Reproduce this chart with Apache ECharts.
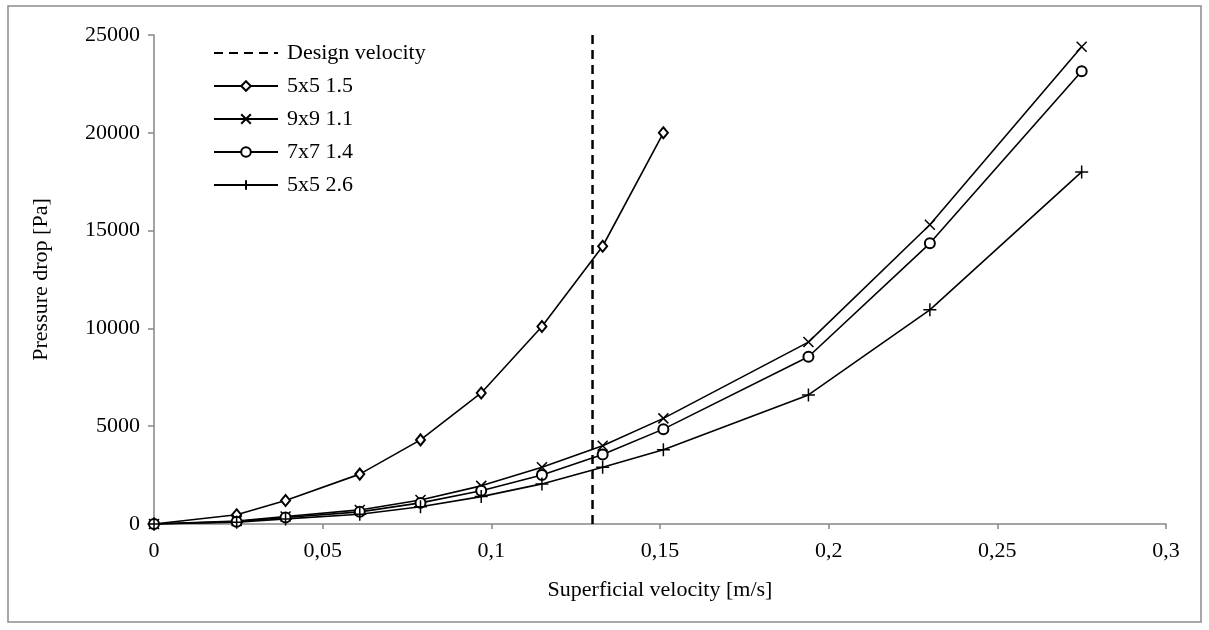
<!DOCTYPE html>
<html>
<head>
<meta charset="utf-8">
<script src="https://cdn.jsdelivr.net/npm/echarts@6/dist/echarts.min.js"></script>
<style>
  html, body { margin: 0; padding: 0; background: #fff; }
  #chart { width: 1209px; height: 630px; }
</style>
</head>
<body>
<div id="chart"></div>
<script>
// ---- data ----
const velocity = [0, 0.0245, 0.039, 0.061, 0.079, 0.097, 0.115, 0.133, 0.151, 0.194, 0.230, 0.275];
const s5x5_15 = [0, 470, 1200, 2550, 4300, 6700, 10100, 14200, 20000];
const s9x9_11 = [0, 150, 380, 720, 1230, 1950, 2900, 4000, 5400, 9300, 15300, 24400];
const s7x7_14 = [0, 120, 330, 620, 1080, 1700, 2500, 3550, 4850, 8550, 14350, 23150];
const s5x5_26 = [0, 90, 260, 500, 880, 1400, 2050, 2900, 3800, 6600, 10950, 18000];
const designVelocity = 0.13;
const yRange = [0, 25000];
const xTicks = [0, 0.05, 0.1, 0.15, 0.2, 0.25, 0.3];
const seriesNames = ['Design velocity', '5x5 1.5', '9x9 1.1', '7x7 1.4', '5x5 2.6'];

function pairs(xs, ys) { return ys.map((y, i) => [xs[i], y]); }

const FONT = '"Liberation Serif", "Times New Roman", serif';
const FS = 22;
const AXIS_COLOR = '#868686';

const crossPath = 'path://M0,0L10,10M10,0L0,10';
const plusPath = 'path://M5,0L5,10M0,5L10,5';

function lineSeries(name, data, symbol, size) {
  return {
    name: name,
    type: 'line',
    data: data,
    symbol: symbol,
    symbolSize: size,
    showSymbol: true,
    lineStyle: { color: '#000', width: 1.6 },
    itemStyle: { color: '#000', borderColor: '#000', borderWidth: 1.5 },
    emphasis: { disabled: true },
    z: 3
  };
}

const chart = echarts.init(document.getElementById('chart'), null, { renderer: 'canvas' });
chart.setOption({
  animation: false,
  backgroundColor: '#fff',
  textStyle: { fontFamily: FONT, color: '#000' },
  grid: { left: 154, right: 43, top: 35, bottom: 106, containLabel: false },
  graphic: [{
    type: 'rect',
    shape: { x: 8, y: 6, width: 1193, height: 616 },
    style: { fill: 'none', stroke: '#8c8c8c', lineWidth: 1.5 },
    silent: true, z: -1
  }],
  legend: {
    orient: 'vertical',
    left: 208,
    top: 37,
    itemWidth: 64,
    itemHeight: 12,
    itemGap: 11,
    data: seriesNames,
    textStyle: { fontFamily: FONT, fontSize: FS, color: '#000', padding: [0, 0, 0, 4] }
  },
  xAxis: {
    type: 'value',
    min: 0, max: 0.3, interval: 0.05,
    name: 'Superficial velocity [m/s]',
    nameLocation: 'middle',
    nameGap: 55,
    nameTextStyle: { fontFamily: FONT, fontSize: FS, color: '#000' },
    axisLine: { show: true, onZero: false, lineStyle: { color: AXIS_COLOR, width: 1.5 } },
    axisTick: { show: true, inside: false, length: 5, lineStyle: { color: AXIS_COLOR, width: 1.5 } },
    axisLabel: {
      fontFamily: FONT, fontSize: FS, color: '#000', margin: 16,
      formatter: v => {
        const t = xTicks.find(k => Math.abs(k - v) < 1e-9);
        return String(t !== undefined ? t : v).replace('.', ',');
      }
    },
    splitLine: { show: false }
  },
  yAxis: {
    type: 'value',
    min: yRange[0], max: yRange[1], interval: 5000,
    name: 'Pressure drop [Pa]',
    nameLocation: 'middle',
    nameGap: 102,
    nameRotate: 90,
    nameTextStyle: { fontFamily: FONT, fontSize: FS, color: '#000' },
    axisLine: { show: true, lineStyle: { color: AXIS_COLOR, width: 1.5 } },
    axisTick: { show: true, inside: false, length: 6, lineStyle: { color: AXIS_COLOR, width: 1.5 } },
    axisLabel: { fontFamily: FONT, fontSize: FS, color: '#000', margin: 14, formatter: v => String(v) },
    splitLine: { show: false }
  },
  series: [
    {
      name: 'Design velocity',
      type: 'line',
      data: [[designVelocity, yRange[0]], [designVelocity, yRange[1]]],
      symbol: 'circle',
      showSymbol: false,
      lineStyle: { color: '#000', width: 2.5, type: [9, 6] },
      itemStyle: { color: 'rgba(0,0,0,0)', borderColor: 'rgba(0,0,0,0)' },
      emphasis: { disabled: true },
      z: 2
    },
    lineSeries('5x5 1.5', pairs(velocity, s5x5_15), 'emptyDiamond', [9, 11]),
    lineSeries('9x9 1.1', pairs(velocity, s9x9_11), crossPath, 10),
    lineSeries('7x7 1.4', pairs(velocity, s7x7_14), 'emptyCircle', 10),
    lineSeries('5x5 2.6', pairs(velocity, s5x5_26), plusPath, 13)
  ]
});
</script>
</body>
</html>
